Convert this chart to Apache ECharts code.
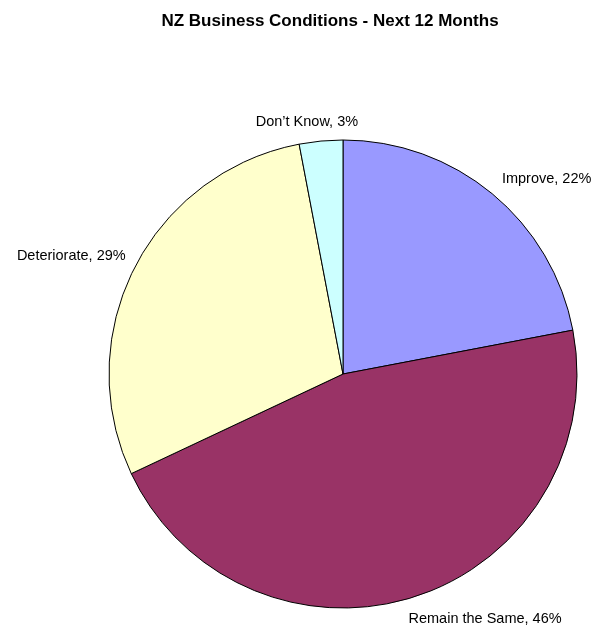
<!DOCTYPE html>
<html>
<head>
<meta charset="utf-8">
<script src="https://cdn.jsdelivr.net/npm/echarts@6/dist/echarts.min.js"></script>
<style>
  html, body { margin: 0; padding: 0; background: #fff; }
  #chart { width: 594px; height: 628px; }
</style>
</head>
<body>
<div id="chart"></div>
<script>
// Survey responses, percent of firms
const categories = ['Improve', 'Remain the Same', 'Deteriorate', 'Don\u2019t Know'];
const shares = [22, 46, 29, 3];
const sliceColors = ['#9999FF', '#993366', '#FFFFCC', '#CCFFFF'];

// small nudges so each label sits snugly beside its slice
const labelNudge = [[-8, 1], [-18, 3], [14, -3], [44, 1]];

const chart = echarts.init(document.getElementById('chart'));
chart.setOption({
  animation: false,
  title: {
    text: 'NZ Business Conditions - Next 12 Months',
    left: 325,
    textAlign: 'center',
    top: 8,
    textStyle: { fontFamily: 'Liberation Sans, Arial', fontSize: 17, fontWeight: 'bold', color: '#000' }
  },
  series: [{
    type: 'pie',
    center: [343, 374],
    radius: 234,
    startAngle: 90,
    clockwise: true,
    avoidLabelOverlap: false,
    data: categories.map((name, i) => ({
      name: name,
      value: shares[i],
      itemStyle: { color: sliceColors[i] }
    })),
    itemStyle: { borderColor: '#000', borderWidth: 1 },
    label: {
      show: true,
      position: 'outside',
      formatter: '{b}, {c}%',
      fontFamily: 'Liberation Sans, Arial',
      fontSize: 14.5,
      color: '#000'
    },
    labelLine: { show: false, length: 20, length2: 0 },
    labelLayout: function (params) {
      const n = labelNudge[params.dataIndex];
      return { dx: n[0], dy: n[1] };
    },
    emphasis: { disabled: true }
  }]
});
</script>
</body>
</html>
